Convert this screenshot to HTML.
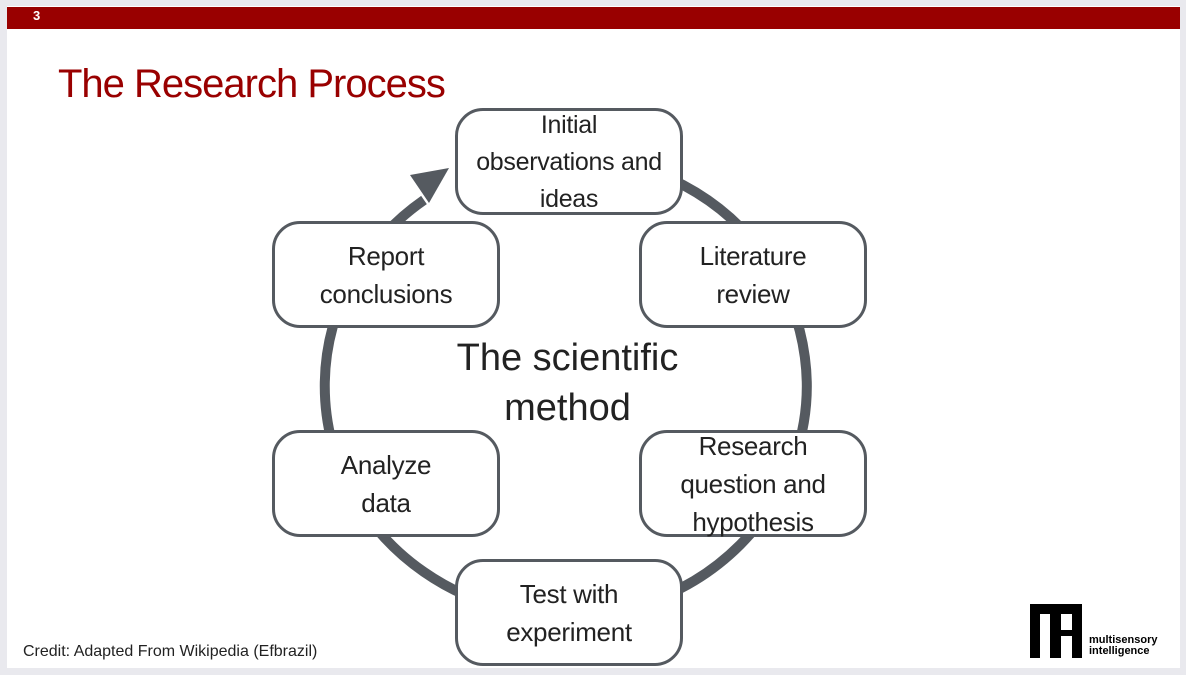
<!DOCTYPE html>
<html><head><meta charset="utf-8"><style>
html,body{margin:0;padding:0;background:#e9e9ee;}
body{width:1186px;height:675px;position:relative;overflow:hidden;font-family:"Liberation Sans",sans-serif;}
.slide{position:absolute;left:7px;top:6px;width:1173px;height:662px;background:#fff;}
.bar{position:absolute;left:7px;top:7px;width:1173px;height:22px;background:#990000;}
.num{position:absolute;left:33px;top:8px;color:#fff;font-weight:bold;font-size:13px;}
.title{position:absolute;left:58px;top:62px;color:#990000;font-size:40px;letter-spacing:-1px;}
.box{position:absolute;box-sizing:border-box;width:228px;height:107px;border:3px solid #555a60;border-radius:28px;background:#fff;display:flex;align-items:center;justify-content:center;text-align:center;font-size:26px;line-height:38px;color:#222;letter-spacing:-0.3px;}
.center{position:absolute;left:420px;top:333px;width:295px;text-align:center;font-size:38px;line-height:50px;color:#222;}
.credit{position:absolute;left:23px;top:643px;font-size:16px;color:#222;}
</style></head><body>
<div class="slide"></div>
<div class="bar"></div><div class="num">3</div>
<div class="title">The Research Process</div>
<svg style="position:absolute;left:0;top:0" width="1186" height="675">
<path d="M 424 200 A 241 230 0 1 0 567 156" fill="none" stroke="#555a60" stroke-width="10"/>
<polygon points="449,168 410,175 429,203" fill="#555a60"/>
</svg>
<div class="box" style="left:455px;top:108px;font-size:25px;line-height:37px;padding-top:2px">Initial<br>observations and<br>ideas</div>
<div class="box" style="left:639px;top:221px">Literature<br>review</div>
<div class="box" style="left:272px;top:221px">Report<br>conclusions</div>
<div class="box" style="left:272px;top:430px">Analyze<br>data</div>
<div class="box" style="left:639px;top:430px;line-height:38px">Research<br>question and<br>hypothesis</div>
<div class="box" style="left:455px;top:559px">Test with<br>experiment</div>
<div class="center">The scientific<br>method</div>
<div class="credit">Credit: Adapted From Wikipedia (Efbrazil)</div>
<div style="position:absolute;left:1030px;top:604px;width:52px;height:54px;background:#000"></div>
<div style="position:absolute;left:1040px;top:614px;width:10px;height:44px;background:#fff"></div>
<div style="position:absolute;left:1061px;top:614px;width:11px;height:16px;background:#fff"></div>
<div style="position:absolute;left:1061px;top:636px;width:11px;height:22px;background:#fff"></div>
<div style="position:absolute;left:1089px;top:635px;font-size:11px;font-weight:bold;line-height:11px;color:#000">multisensory<br>intelligence</div>
</body></html>
